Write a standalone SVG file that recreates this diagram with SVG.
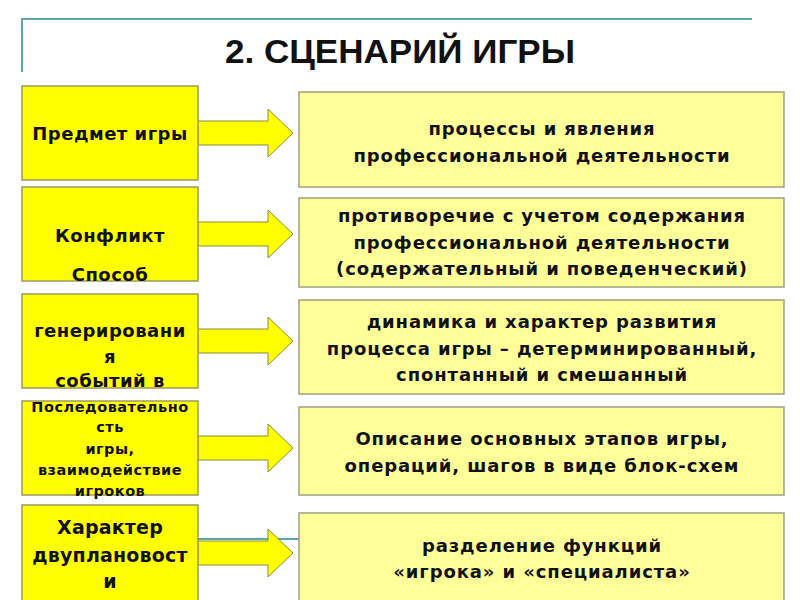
<svg xmlns="http://www.w3.org/2000/svg" width="800" height="600" viewBox="0 0 800 600">
<style>
.lbox{fill:#FFFF00;stroke:#9A9A60;stroke-width:1.5}
.rbox{fill:#FFFF99;stroke:#A0A080;stroke-width:1.5}
.arr{fill:#FFFF00;stroke:#8A8A40;stroke-width:1}
.deco{stroke:#5FA8AA;stroke-width:2;fill:none}
text{font-family:"DejaVu Sans",Verdana,sans-serif;font-weight:bold;fill:#111;text-anchor:middle}
.lt{font-size:18px;letter-spacing:0.5px}
.lt4{font-size:14.5px;letter-spacing:0.5px}
.lt5{font-size:19px;letter-spacing:0.2px}
.rt{font-size:18px;letter-spacing:0.9px}
.title{font-family:"Liberation Sans",Arial,sans-serif;font-size:34px}
</style>
<rect width="800" height="600" fill="#fff"/>
<g id="frame">
<path class="deco" d="M22 72 V19 H752"/>
<line class="deco" x1="198" y1="539" x2="300" y2="539"/>
</g>
<text id="title" class="title" x="400" y="63" textLength="350" lengthAdjust="spacingAndGlyphs">2. СЦЕНАРИЙ ИГРЫ</text>
<g id="connectors">
<polygon class="arr" points="198,121 268,121 268,109 293,133 268,157 268,145 198,145"/>
<polygon class="arr" points="198,222 268,222 268,210 293,234 268,258 268,246 198,246"/>
<polygon class="arr" points="198,329 268,329 268,317 293,341 268,365 268,353 198,353"/>
<polygon class="arr" points="198,436 268,436 268,424 293,448 268,472 268,460 198,460"/>
<polygon class="arr" points="198,541 268,541 268,529 293,553 268,577 268,565 198,565"/>
</g>
<g id="l1"><rect class="lbox" x="22" y="86" width="176" height="94"/>
<text class="lt" x="110" y="140">Предмет игры</text></g>
<g id="l2"><rect class="lbox" x="22" y="187" width="176" height="94"/>
<text class="lt" x="110" y="242">Конфликт</text>
<text class="lt" x="110" y="281">Способ</text></g>
<g id="l3"><rect class="lbox" x="22" y="294" width="176" height="94"/>
<text class="lt" x="110" y="337">генерировани</text>
<text class="lt" x="110" y="363">я</text>
<text class="lt" x="110" y="387">событий в</text></g>
<g id="l4"><rect class="lbox" x="22" y="401" width="176" height="94"/>
<text class="lt4" x="110" y="412">Последовательно</text>
<text class="lt4" x="110" y="432">сть</text>
<text class="lt4" x="110" y="454">игры,</text>
<text class="lt4" x="110" y="475">взаимодействие</text>
<text class="lt4" x="110" y="496">игроков</text></g>
<g id="l5"><rect class="lbox" x="22" y="505" width="176" height="100"/>
<text class="lt5" x="110" y="534">Характер</text>
<text class="lt5" x="110" y="562">двуплановост</text>
<text class="lt5" x="110" y="588">и</text></g>
<g id="r1"><rect class="rbox" x="299" y="92" width="485" height="95"/>
<text class="rt" x="542" y="135">процессы и явления</text>
<text class="rt" x="542" y="162">профессиональной деятельности</text></g>
<g id="r2"><rect class="rbox" x="299" y="198" width="485" height="89"/>
<text class="rt" x="542" y="222">противоречие с учетом содержания</text>
<text class="rt" x="542" y="249">профессиональной деятельности</text>
<text class="rt" x="542" y="275">(содержательный и поведенческий)</text></g>
<g id="r3"><rect class="rbox" x="299" y="300" width="485" height="94"/>
<text class="rt" x="542" y="328">динамика и характер развития</text>
<text class="rt" x="542" y="355">процесса игры – детерминированный,</text>
<text class="rt" x="542" y="381">спонтанный и смешанный</text></g>
<g id="r4"><rect class="rbox" x="299" y="407" width="485" height="88"/>
<text class="rt" x="542" y="445">Описание основных этапов игры,</text>
<text class="rt" x="542" y="472">операций, шагов в виде блок-схем</text></g>
<g id="r5"><rect class="rbox" x="299" y="513" width="485" height="95"/>
<text class="rt" x="542" y="552">разделение функций</text>
<text class="rt" x="542" y="578">«игрока» и «специалиста»</text></g>
</svg>
